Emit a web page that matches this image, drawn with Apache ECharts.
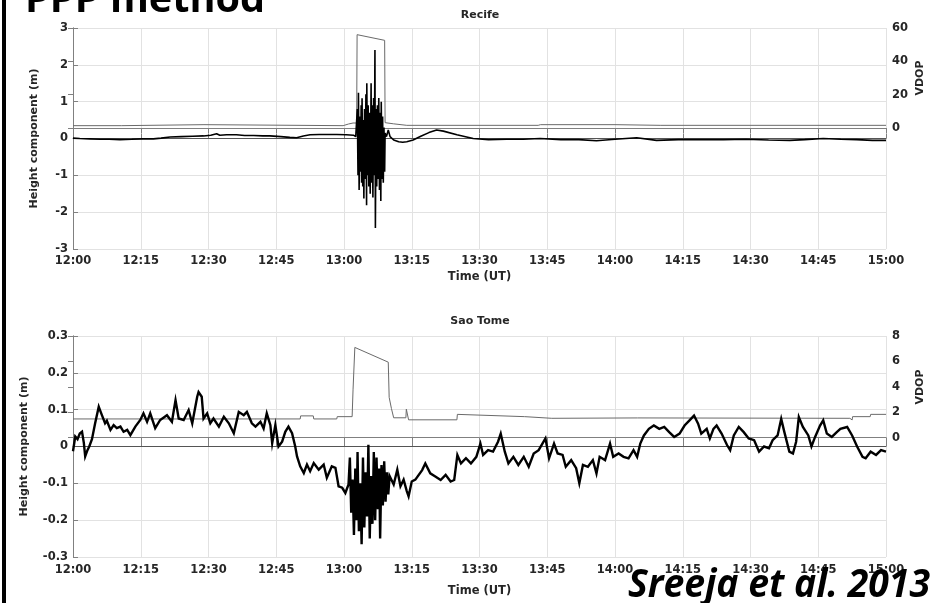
<!DOCTYPE html>
<html><head><meta charset="utf-8">
<script src="https://cdn.jsdelivr.net/npm/echarts@6/dist/echarts.min.js"></script>
<style>html,body{margin:0;padding:0;background:#fff}#c{width:931px;height:603px}</style>
</head><body><div id="c"></div><script>
// ---------- DATA (minutes after 12:00 UT, values) ----------
const xTickMinutes = [0,15,30,45,60,75,90,105,120,135,150,165,180];
const recifeVdopTicks = [0,20,40,60];
const saoTomeVdopTicks = [0,2,4,6,8];

const recifeHeight = [[0,0.01],[1.5,0.0],[3.7,-0.01],[6,-0.02],[8,-0.02],[10.4,-0.03],[13,-0.02],[15.5,-0.01],[17.8,-0.01],[19.5,0.01],[21.5,0.04],[24,0.05],[26.5,0.06],[28.9,0.07],[30.5,0.09],[31.8,0.13],[32.5,0.09],[34,0.1],[36.2,0.1],[38,0.08],[40,0.08],[42,0.07],[43.6,0.07],[46,0.05],[48,0.03],[49.5,0.02],[51,0.07],[52.5,0.1],[54.5,0.11],[56.5,0.11],[58.4,0.11],[60.5,0.1],[62.1,0.09],[62.6,0.05],
[62.8,0.1],[62.95,0.8],[63.1,-1.0],[63.2,1.24],[63.35,-1.4],[63.5,0.6],[63.65,-0.9],[63.8,0.9],[63.9,-1.2],[64.0,1.09],[64.15,-1.3],[64.3,0.5],[64.4,-1.63],[64.55,0.8],[64.7,-1.1],[64.85,1.2],[65.0,-1.81],[65.05,1.5],[65.2,-1.0],[65.35,0.9],[65.5,-1.3],[65.65,0.7],[65.8,-1.5],[66.0,1.5],[66.1,-1.2],[66.25,0.9],[66.4,-1.6],[66.55,1.1],[66.7,-1.0],[66.85,2.4],[66.95,-2.43],[67.1,0.8],[67.25,-1.3],[67.4,0.9],[67.55,-1.1],[67.7,1.1],[67.85,-1.4],[68.0,0.7],[68.15,-1.7],[68.25,1.0],[68.4,-1.1],[68.55,0.6],[68.7,-1.2],[68.85,0.3],[69.0,-0.9],[69.1,0.15],
[69.4,0.05],[69.8,0.23],[70.2,0.05],[71,-0.04],[72.1,-0.09],[73,-0.1],[73.9,-0.09],[75.3,-0.04],[77,0.06],[78.8,0.16],[80.5,0.23],[82,0.2],[85,0.1],[88.6,0.0],[92,-0.03],[96,-0.02],[99.7,-0.02],[103.4,0.0],[108,-0.03],[112,-0.03],[115.9,-0.06],[120,-0.02],[124.8,0.02],[129.2,-0.05],[134,-0.03],[139,-0.03],[144,-0.03],[149,-0.02],[154,-0.04],[158.7,-0.05],[162,-0.03],[166.1,0.0],[170,-0.02],[173.5,-0.03],[177,-0.05],[180,-0.05]];

const recifeVdop = [[0,1.4],[10.8,1.4],[10.9,2.0],[29,2.0],[29.1,1.4],[59.8,1.4],[61,2.4],[62,3.0],[62.8,3.0],[62.9,56],[69.0,52.6],[69.1,3.2],[71,2.5],[73.9,1.6],[103,1.6],[103.5,2.0],[120,2.0],[130,1.6],[180,1.6]];

const saoTomeHeight = [[0,-0.013],[0.5,0.027],[1.0,0.02],[1.5,0.035],[2.0,0.04],[2.4,0.01],[2.7,-0.027],[3.2,-0.01],[3.6,0.0],[4.2,0.02],[4.9,0.063],[5.7,0.108],[6.4,0.085],[7.1,0.063],[7.5,0.07],[8.3,0.045],[9.0,0.058],[9.7,0.05],[10.5,0.054],[11.2,0.04],[12.0,0.045],[12.7,0.031],[13.8,0.054],[14.9,0.072],[15.6,0.09],[16.4,0.067],[17.1,0.09],[18.2,0.05],[19.3,0.072],[20.8,0.085],[21.9,0.067],[22.7,0.126],[23.4,0.076],[24.5,0.072],[25.6,0.099],[26.4,0.063],[27.5,0.135],[27.8,0.148],[28.5,0.135],[28.9,0.076],[29.7,0.09],[30.4,0.063],[31.1,0.076],[32.3,0.054],[33.4,0.081],[34.5,0.063],[35.6,0.036],[36.7,0.094],[37.8,0.085],[38.5,0.094],[39.6,0.063],[40.4,0.054],[41.5,0.067],[42.2,0.049],[42.9,0.09],[43.7,0.058],[44.1,0.009],[44.8,0.058],[45.5,0.0],[46.3,0.013],[47.0,0.04],[47.7,0.054],[48.5,0.036],[49.2,0.0],[49.6,-0.027],[50.3,-0.054],[51.1,-0.072],[51.8,-0.049],[52.5,-0.067],[53.3,-0.045],[54.4,-0.063],[55.5,-0.049],[56.2,-0.085],[57.3,-0.054],[58.1,-0.058],[58.8,-0.108],[59.6,-0.112],[60.3,-0.126],[61.0,-0.103],
[61.3,-0.03],[61.6,-0.18],[61.9,-0.09],[62.2,-0.24],[62.5,-0.06],[62.8,-0.2],[63.0,-0.015],[63.3,-0.23],[63.6,-0.1],[63.9,-0.265],[64.2,-0.03],[64.5,-0.22],[64.8,-0.07],[65.1,-0.19],[65.4,0.005],[65.7,-0.25],[66.0,-0.08],[66.3,-0.21],[66.6,-0.015],[66.9,-0.2],[67.2,-0.03],[67.5,-0.17],[67.8,-0.06],[68.0,-0.25],[68.3,-0.05],[68.6,-0.16],[68.9,-0.04],[69.2,-0.15],[69.5,-0.07],[69.8,-0.13],[70.1,-0.08],
[70.3,-0.081],[71.0,-0.103],[71.8,-0.063],[72.5,-0.108],[73.2,-0.09],[73.9,-0.121],[74.3,-0.135],[75.0,-0.095],[75.8,-0.09],[76.1,-0.095],[77.3,-0.064],[78.0,-0.046],[79.1,-0.073],[80.3,-0.082],[81.4,-0.091],[82.5,-0.077],[83.6,-0.095],[84.4,-0.091],[85.1,-0.023],[85.9,-0.046],[87,-0.032],[88.1,-0.046],[89.3,-0.028],[90.2,0.008],[90.8,-0.023],[91.9,-0.01],[93,-0.014],[94.1,0.013],[94.7,0.035],[95.6,-0.014],[96.4,-0.046],[97.5,-0.028],[98.6,-0.05],[99.8,-0.028],[100.9,-0.055],[102,-0.019],[103.1,-0.01],[104.6,0.022],[105.4,-0.032],[106.5,0.008],[107.3,-0.019],[108.4,-0.023],[109.1,-0.055],[110.3,-0.037],[111.4,-0.059],[112.1,-0.1],[112.9,-0.05],[114,-0.055],[115.1,-0.037],[115.9,-0.073],[116.6,-0.028],[117.8,-0.037],[118.9,0.008],[119.6,-0.028],[120.8,-0.019],[121.9,-0.028],[123,-0.032],[124.1,-0.01],[124.9,-0.028],[125.6,0.008],[126.4,0.03],[127.5,0.048],[128.6,0.057],[129.8,0.048],[130.9,0.053],[132,0.039],[133.1,0.026],[134.3,0.035],[135.4,0.057],[136.5,0.071],[137.5,0.084],[138.4,0.062],[139.1,0.035],[140.3,0.048],[141,0.022],[141.8,0.048],[142.5,0.057],[143.6,0.035],[144.8,0.004],[145.5,-0.01],[146.3,0.03],[147.4,0.053],[148.5,0.039],[149.6,0.022],[150.8,0.017],[151.9,-0.014],[153,0],[154.1,-0.005],[154.9,0.017],[156,0.03],[156.8,0.075],[157.5,0.039],[158.6,-0.014],[159.4,-0.019],[160.1,0.013],[160.7,0.08],[161.6,0.053],[162.8,0.03],[163.5,0],[164.3,0.026],[165.4,0.057],[166.1,0.071],[166.9,0.035],[168,0.026],[169.1,0.039],[169.9,0.048],[171.4,0.053],[172.5,0.03],[173.6,0],[174.8,-0.028],[175.5,-0.032],[176.6,-0.014],[177.8,-0.023],[178.9,-0.01],[180,-0.014]];

const saoTomeVdop = [[0,1.47],[50.3,1.47],[50.4,1.71],[53.2,1.71],[53.3,1.47],[58.4,1.47],[58.5,1.65],[61.8,1.65],[62.0,3.76],[62.4,7.1],[69.8,5.94],[70.0,3.17],[70.5,2.29],[71.0,1.56],[73.7,1.56],[73.8,2.24],[74.2,2.24],[74.3,1.4],[85.0,1.4],[85.1,1.83],[100,1.65],[100.1,1.52],[106,1.52],[106.1,1.65],[125,1.55],[172,1.52],[172.1,1.39],[172.5,1.39],[172.6,1.65],[176.5,1.65],[176.6,1.83],[180,1.83]];

const zeroLine = [[0,0],[180,0]];

// ---------- STYLE ----------
const F = 'DejaVu Sans';
const TXT = '#262626';
const AX = '#808080';
const GRIDC = '#e2e2e2';
function fmtTime(v){ const h = 12 + Math.floor(v/60), m = Math.round(v % 60); return h + ':' + (m < 10 ? '0' : '') + m; }
function textW(str, font){ const c = document.createElement('canvas').getContext('2d'); c.font = font; return c.measureText(str).width; }

const lbl = {color: TXT, fontFamily: F, fontWeight: 'bold', fontSize: 11.5};
const nameStyle = {color: TXT, fontFamily: F, fontWeight: 'bold', fontSize: 11};

function xMain(gi, gap, margin){
  return {type:'value', gridIndex: gi, position:'bottom', min:0, max:180, interval:15,
    axisLine:{show:true, lineStyle:{color:AX}}, axisTick:{show:true, inside:true, length:5, lineStyle:{color:AX}},
    splitLine:{show:true, lineStyle:{color:GRIDC}},
    axisLabel:Object.assign({formatter: fmtTime, margin: margin, showMinLabel:true, showMaxLabel:true}, lbl),
    name:'Time (UT)', nameLocation:'middle', nameGap: gap, nameTextStyle: lbl};
}
function xTop(gi){
  return {type:'value', gridIndex: gi, position:'top', min:0, max:180, interval:15,
    axisLine:{show:true, lineStyle:{color:AX}}, axisTick:{show:true, inside:true, length:5, lineStyle:{color:AX}},
    splitLine:{show:false}, axisLabel:{show:false}};
}
function yLeft(gi, min, max, interval, gap){
  return {type:'value', gridIndex: gi, position:'left', min:min, max:max, interval:interval,
    axisLine:{show:true, lineStyle:{color:AX}}, axisTick:{show:true, inside:true, length:5, lineStyle:{color:AX}},
    splitLine:{show:true, lineStyle:{color:GRIDC}},
    axisLabel:Object.assign({margin:5}, lbl),
    name:'Height component (m)', nameLocation:'middle', nameGap: gap, nameTextStyle: nameStyle};
}
function yRight(gi, min, max, ticks){
  return {type:'value', gridIndex: gi, position:'right', min:min, max:max,
    axisLine:{show:true, lineStyle:{color:AX}},
    axisTick:{show:true, inside:true, length:5, lineStyle:{color:AX}, customValues: ticks},
    splitLine:{show:false},
    axisLabel:Object.assign({margin:6, customValues: ticks}, lbl)};
}

const pppFont = 'bold 40px "Open Sans"';
const srFont = 'italic bold 40px "Open Sans"';
const pppScale = 240 / textW('PPP method', pppFont);
const srScale = 302 / textW('Sreeja et al. 2013', srFont);

const option = {
  backgroundColor:'#ffffff',
  animation:false,
  grid:[
    {left:73, right:45, top:28, height:221},
    {left:73, right:45, top:336, height:221}
  ],
  xAxis:[ xMain(0, 22, 6), xTop(0), xMain(1, 28, 7), xTop(1) ],
  yAxis:[ yLeft(0, -3, 3, 1, 33), yRight(0, -72.6, 60, recifeVdopTicks),
          yLeft(1, -0.3, 0.3, 0.1, 43), yRight(1, -9.4, 8, saoTomeVdopTicks) ],
  series:[
    {type:'line', xAxisIndex:0, yAxisIndex:0, data: zeroLine, showSymbol:false, silent:true, lineStyle:{color:'#555', width:1}},
    {type:'line', xAxisIndex:0, yAxisIndex:1, data: recifeVdop, showSymbol:false, lineStyle:{color:'#6a6a6a', width:1}},
    {type:'line', xAxisIndex:0, yAxisIndex:0, data: recifeHeight, showSymbol:false, lineStyle:{color:'#000', width:1.6}},
    {type:'line', xAxisIndex:2, yAxisIndex:2, data: zeroLine, showSymbol:false, silent:true, lineStyle:{color:'#555', width:1}},
    {type:'line', xAxisIndex:2, yAxisIndex:3, data: saoTomeVdop, showSymbol:false, lineStyle:{color:'#6a6a6a', width:1}},
    {type:'line', xAxisIndex:2, yAxisIndex:2, data: saoTomeHeight, showSymbol:false, lineStyle:{color:'#000', width:2.4, join:'miter'}}
  ],
  graphic:[
    {type:'rect', shape:{x:2, y:0, width:4, height:603}, style:{fill:'#000'}, z:100},
    {type:'text', x:480, y:15, style:{text:'Recife', font:'bold 11px "DejaVu Sans"', fill:TXT, align:'center', verticalAlign:'middle'}},
    {type:'text', x:480, y:321, style:{text:'Sao Tome', font:'bold 11px "DejaVu Sans"', fill:TXT, align:'center', verticalAlign:'middle'}},
    {type:'text', x:920, y:78, rotation:Math.PI/2, style:{text:'VDOP', font:'bold 11px "DejaVu Sans"', fill:TXT, align:'center', verticalAlign:'middle'}},
    {type:'text', x:920, y:387, rotation:Math.PI/2, style:{text:'VDOP', font:'bold 11px "DejaVu Sans"', fill:TXT, align:'center', verticalAlign:'middle'}},
    {type:'text', x:25, y:1, originX:0, scaleX:pppScale, style:{text:'PPP method', font:pppFont, fill:'#000', align:'left', verticalAlign:'middle'}, z:100},
    {type:'text', x:628, y:586, originX:0, scaleX:srScale, style:{text:'Sreeja et al. 2013', font:srFont, fill:'#000', align:'left', verticalAlign:'middle'}, z:100}
  ]
};
const chart = echarts.init(document.getElementById('c'), null, {renderer:'canvas'});
chart.setOption(option);
</script></body></html>
